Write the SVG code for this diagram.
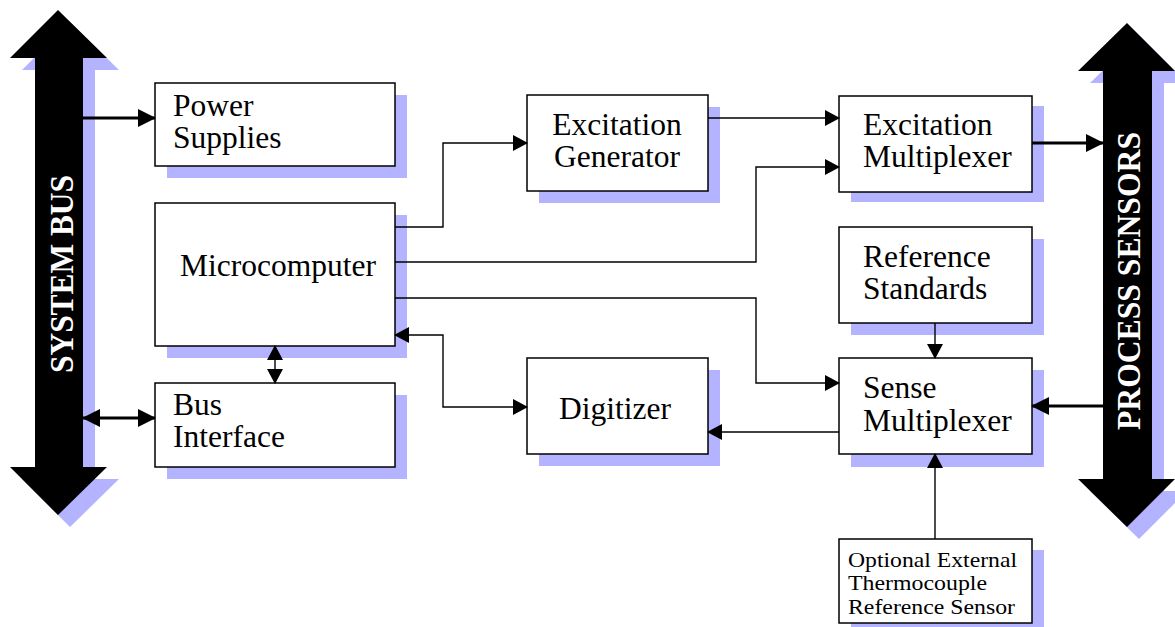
<svg xmlns="http://www.w3.org/2000/svg" width="1175" height="627" viewBox="0 0 1175 627">
<style>
.shadow{fill:#b3b3ff;stroke:none}
.box{fill:#ffffff;stroke:#000000;stroke-width:1.5}
.t{font-family:"Liberation Serif","Times New Roman",serif;font-size:31.5px;fill:#000000}
.ts{font-family:"Liberation Serif","Times New Roman",serif;font-size:21px;fill:#000000}
.bus{fill:#000000}
.bt{font-family:"Liberation Serif","Times New Roman",serif;font-size:33px;font-weight:bold;fill:#ffffff}
.thin{fill:none;stroke:#000000;stroke-width:1.4}
.thick{fill:none;stroke:#000000;stroke-width:3}
</style>
<defs>
<marker id="a" markerUnits="userSpaceOnUse" markerWidth="15" markerHeight="16" refX="14" refY="8" orient="auto-start-reverse">
<path d="M0,0 L15,8 L0,16 z" fill="#000000"/>
</marker>
<marker id="A" markerUnits="userSpaceOnUse" markerWidth="18" markerHeight="18" refX="17" refY="9" orient="auto-start-reverse">
<path d="M0,0 L18,9 L0,18 z" fill="#000000"/>
</marker>
</defs>
<g id="system-bus">
<polygon class="shadow" points="70,22 119,70 95,70 95,479 119,479 70,527 22,479 47,479 47,70 22,70"/>
<polygon class="bus" points="58,10 107,58 83,58 83,467 107,467 58,515 10,467 35,467 35,58 10,58"/>
<text class="bt" x="73" y="274" text-anchor="middle" textLength="198" lengthAdjust="spacingAndGlyphs" transform="rotate(-90 73 274)">SYSTEM BUS</text>
</g>
<g id="process-sensors">
<polygon class="shadow" points="1139,35 1187,83 1164,83 1164,491 1187,491 1139,539 1090,491 1115,491 1115,83 1090,83"/>
<polygon class="bus" points="1127,23 1175,71 1152,71 1152,479 1175,479 1127,527 1078,479 1103,479 1103,71 1078,71"/>
<text class="bt" x="1140" y="281" text-anchor="middle" textLength="298" lengthAdjust="spacingAndGlyphs" transform="rotate(-90 1140 281)">PROCESS SENSORS</text>
</g>
<g id="power-supplies">
<rect class="shadow" x="167" y="95" width="240" height="83"/>
<rect class="box" x="155" y="83" width="240" height="83"/>
<text class="t" x="173" y="116">Power</text>
<text class="t" x="173" y="148">Supplies</text>
</g>
<g id="microcomputer">
<rect class="shadow" x="167" y="215" width="240" height="143"/>
<rect class="box" x="155" y="203" width="240" height="143"/>
<text class="t" x="180" y="276">Microcomputer</text>
</g>
<g id="bus-interface">
<rect class="shadow" x="167" y="395" width="240" height="84"/>
<rect class="box" x="155" y="383" width="240" height="84"/>
<text class="t" x="173" y="415">Bus</text>
<text class="t" x="173" y="447">Interface</text>
</g>
<g id="excitation-generator">
<rect class="shadow" x="539" y="107" width="181" height="96"/>
<rect class="box" x="527" y="95" width="181" height="96"/>
<text class="t" x="617" y="135" text-anchor="middle">Excitation</text>
<text class="t" x="617" y="167" text-anchor="middle">Generator</text>
</g>
<g id="digitizer">
<rect class="shadow" x="539" y="370" width="181" height="96"/>
<rect class="box" x="527" y="358" width="181" height="96"/>
<text class="t" x="615" y="419" text-anchor="middle">Digitizer</text>
</g>
<g id="excitation-multiplexer">
<rect class="shadow" x="851" y="106" width="193" height="96"/>
<rect class="box" x="839" y="96" width="193" height="96"/>
<text class="t" x="863" y="135">Excitation</text>
<text class="t" x="863" y="167">Multiplexer</text>
</g>
<g id="reference-standards">
<rect class="shadow" x="851" y="239" width="193" height="96"/>
<rect class="box" x="839" y="227" width="193" height="96"/>
<text class="t" x="863" y="267">Reference</text>
<text class="t" x="863" y="299">Standards</text>
</g>
<g id="sense-multiplexer">
<rect class="shadow" x="851" y="370" width="193" height="97"/>
<rect class="box" x="839" y="358" width="193" height="96"/>
<text class="t" x="863" y="398">Sense</text>
<text class="t" x="863" y="431">Multiplexer</text>
</g>
<g id="optional-sensor">
<rect class="shadow" x="851" y="550" width="193" height="77"/>
<rect class="box" x="839" y="539" width="193" height="84"/>
<text class="ts" x="848" y="567" textLength="169" lengthAdjust="spacingAndGlyphs">Optional External</text>
<text class="ts" x="848" y="590" textLength="139" lengthAdjust="spacingAndGlyphs">Thermocouple</text>
<text class="ts" x="848" y="614" textLength="167" lengthAdjust="spacingAndGlyphs">Reference Sensor</text>
</g>
<g id="connectors">
<path class="thick" d="M83,118 H155" marker-end="url(#A)"/>
<path class="thick" d="M83,418 H155" marker-start="url(#A)" marker-end="url(#A)"/>
<path class="thin" d="M275,346 V383" marker-start="url(#a)" marker-end="url(#a)"/>
<path class="thin" d="M395,227 H443 V143 H527" marker-end="url(#a)"/>
<path class="thin" d="M708,118 H839" marker-end="url(#a)"/>
<path class="thin" d="M395,262 H756 V167 H839" marker-end="url(#a)"/>
<path class="thin" d="M395,298 H756 V383 H839" marker-end="url(#a)"/>
<path class="thin" d="M395,335 H443 V407 H527" marker-start="url(#a)" marker-end="url(#a)"/>
<path class="thin" d="M839,432 H708" marker-end="url(#a)"/>
<path class="thin" d="M935,323 V358" marker-end="url(#a)"/>
<path class="thin" d="M935,539 V454" marker-end="url(#a)"/>
<path class="thick" d="M1032,143 H1103" marker-end="url(#A)"/>
<path class="thick" d="M1103,406 H1032" marker-end="url(#A)"/>
</g>
</svg>
